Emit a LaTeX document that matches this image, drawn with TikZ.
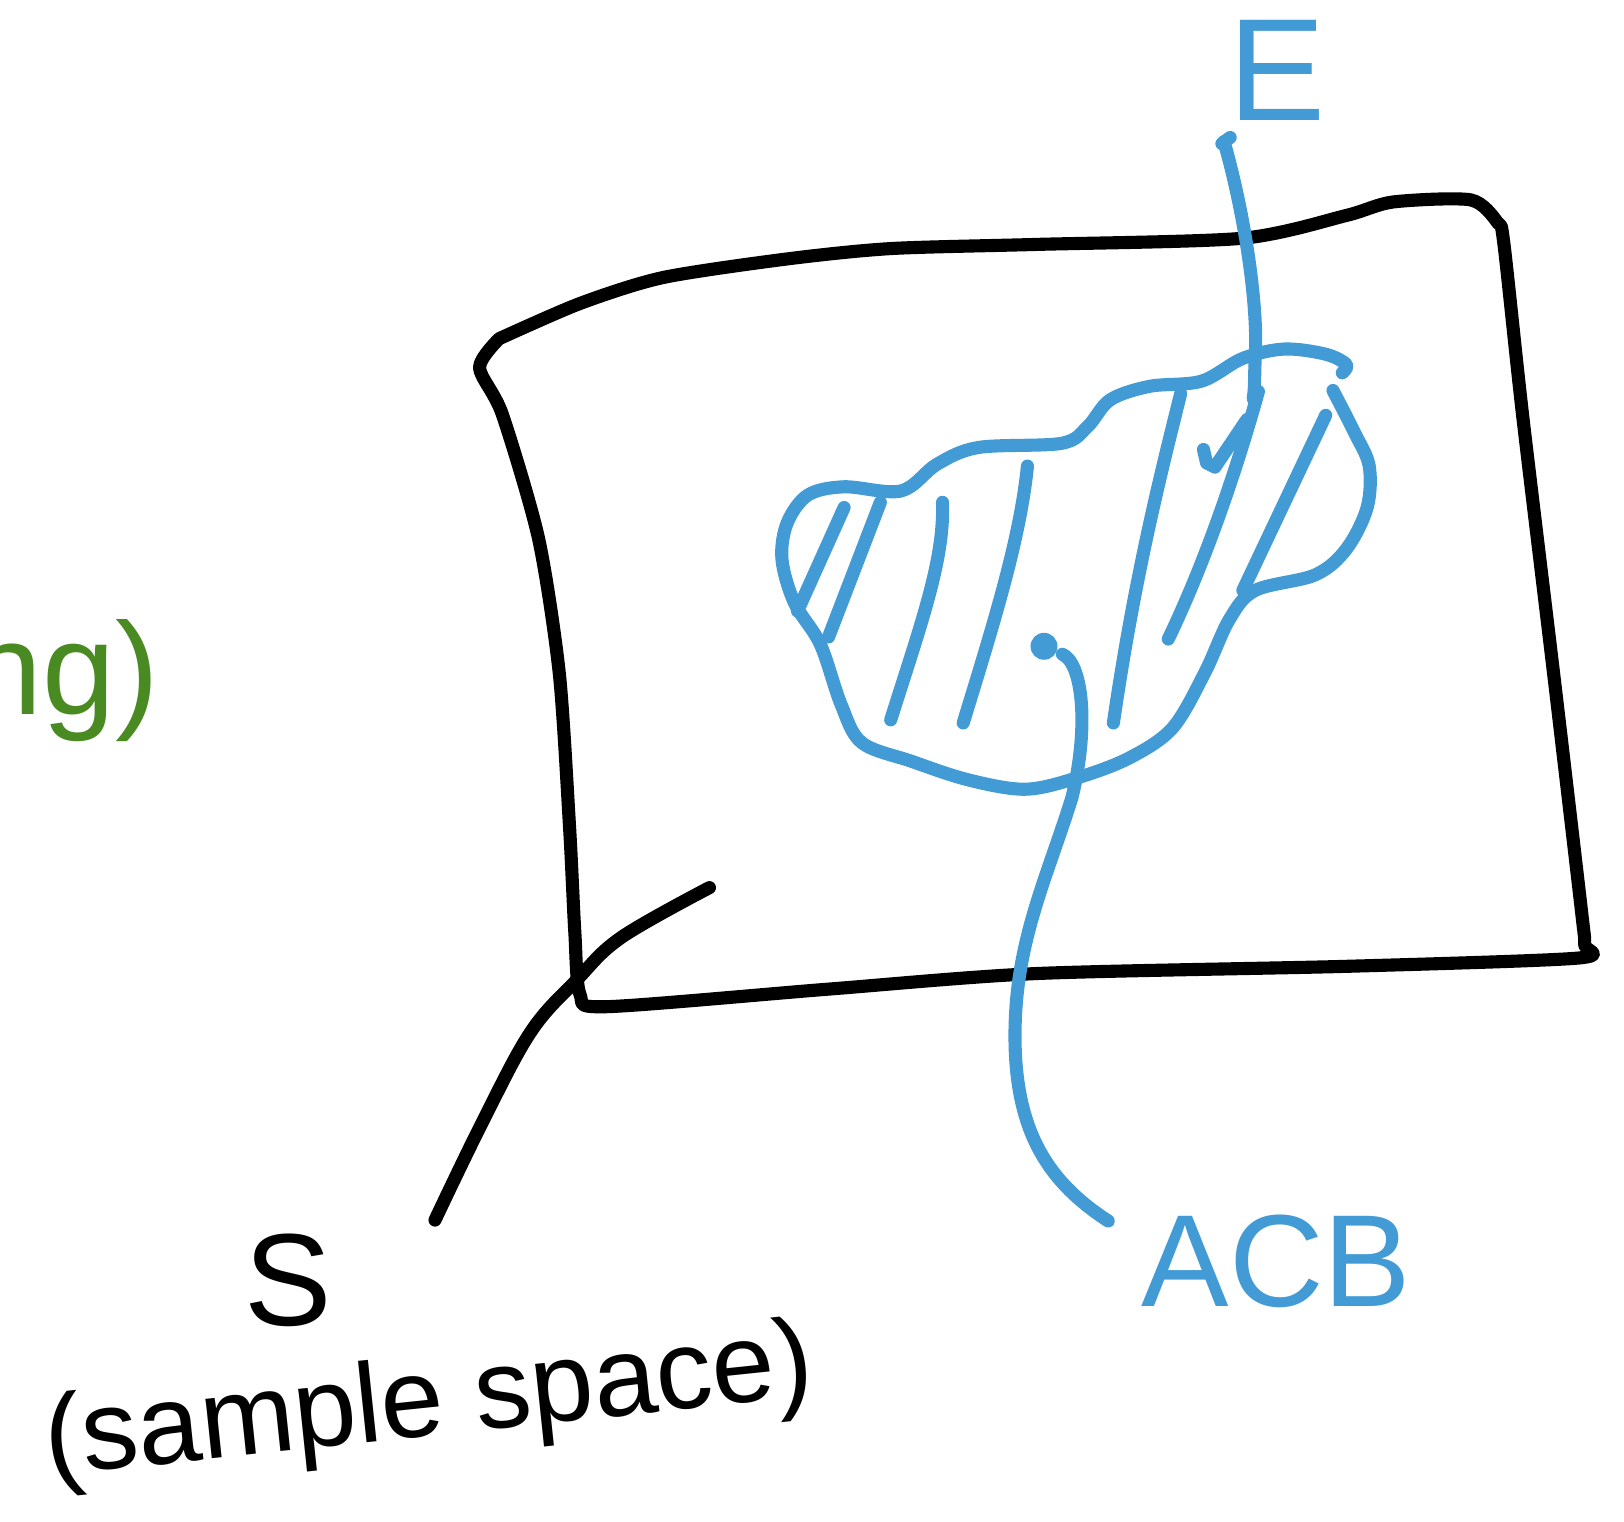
\documentclass[tikz,border=0pt]{standalone}
\usepackage{fontspec}
\setmainfont{Liberation Sans}
\usepackage{tikz}
\usetikzlibrary{calc}
\definecolor{penblue}{RGB}{66,155,212}
\definecolor{pengreen}{RGB}{74,138,34}

\begin{document}
\begin{tikzpicture}[x=0.01cm, y=-0.01cm, line width=3.6pt, line cap=round, line join=round, font=\fontsize{36}{40}\selectfont]
		\useasboundingbox (0,0) rectangle (1568,1469);
		% sample space
		\draw plot[smooth, tension=0.45] coordinates {(482,327) (560,293) (640,268) (760,250) (860,240) (1000,236) (1200,230) (1300,208) (1345,195) (1420,193) (1446,215) (1452,235) (1470,400) (1500,650) (1527,880) (1530,912) (1524,925) (1300,933) (1000,940) (800,955) (585,972) (560,960) (555,900) (550,800) (540,650) (520,520) (485,400) (463,355) (482,327)};
		\coordinate (corner) at (557,946);
		\coordinate (Send) at (420,1178);
		\draw plot[smooth, tension=0.6] coordinates {(685,857) (600,905) (corner) (512,997) (465,1085) (Send)};
		% labels in black
		\node[inner sep=0] (S) at (278,1236) {S};
		\node[inner sep=0, rotate=6, font=\fontsize{31}{34}\selectfont] (sample) at (414,1358) {(sample space)};
		% green text at the edge
		\node[pengreen, inner sep=0, anchor=base east] (note) at (160,690) {ng)};
		% event E
		\draw[penblue] plot[smooth, tension=0.55] coordinates {(1296,360) (1300,352) (1280,342) (1240,337) (1200,346) (1160,368) (1110,373) (1072,386) (1050,412) (1025,428) (945,432) (905,448) (870,474) (815,470) (780,478) (760,505) (755,540) (767,582) (792,622) (812,680) (832,717) (880,735) (935,753) (990,762) (1040,751) (1090,732) (1132,703) (1163,650) (1187,598) (1212,570) (1270,555) (1300,530) (1320,490) (1322,450) (1308,418) (1287,377)};
		% hatching
		\draw[penblue] (815,490) -- (770,590);
		\draw[penblue] (850,485) -- (800,615);
		\draw[penblue] (910,485) .. controls (912,540) and (890,600) .. (860,695);
		\draw[penblue] (992,450) .. controls (985,520) and (960,600) .. (930,698);
		\draw[penblue] (1140,380) .. controls (1120,460) and (1095,560) .. (1075,698);
		\draw[penblue] (1215,378) .. controls (1195,450) and (1165,540) .. (1128,617);
		\draw[penblue] (1280,401) -- (1200,570);
		% tick
		\draw[penblue] (1162,434) -- (1165,447) -- (1173,451) -- (1204,405);
		% labels in blue
		\node[penblue, inner sep=0, font=\fontsize{40}{44}\selectfont] (E) at (1233,68) {E};
		\node[penblue, inner sep=0, anchor=west] (ACB) at (1096,1218) {ACB};
		\node[penblue, circle, fill=penblue, inner sep=0, minimum size=0.26cm] (dot) at (1008,624) {};
		\draw[penblue] ($(E.south west)+(8,10)$) -- ++(-8,6);
		\draw[penblue] ($(E.south west)+(2,14)$) .. controls (1200,200) and (1215,290) .. (1212,345) .. controls (1211,362) and (1212,372) .. (1210,385);
		\draw[penblue] (dot) .. controls (1045,640) and (1052,700) .. (1035,770) .. controls (1010,850) and (980,910) .. (980,1000) .. controls (980,1090) and (1010,1140) .. ($(ACB.north west)+(-26,12)$);
	\end{tikzpicture}
\end{document}
